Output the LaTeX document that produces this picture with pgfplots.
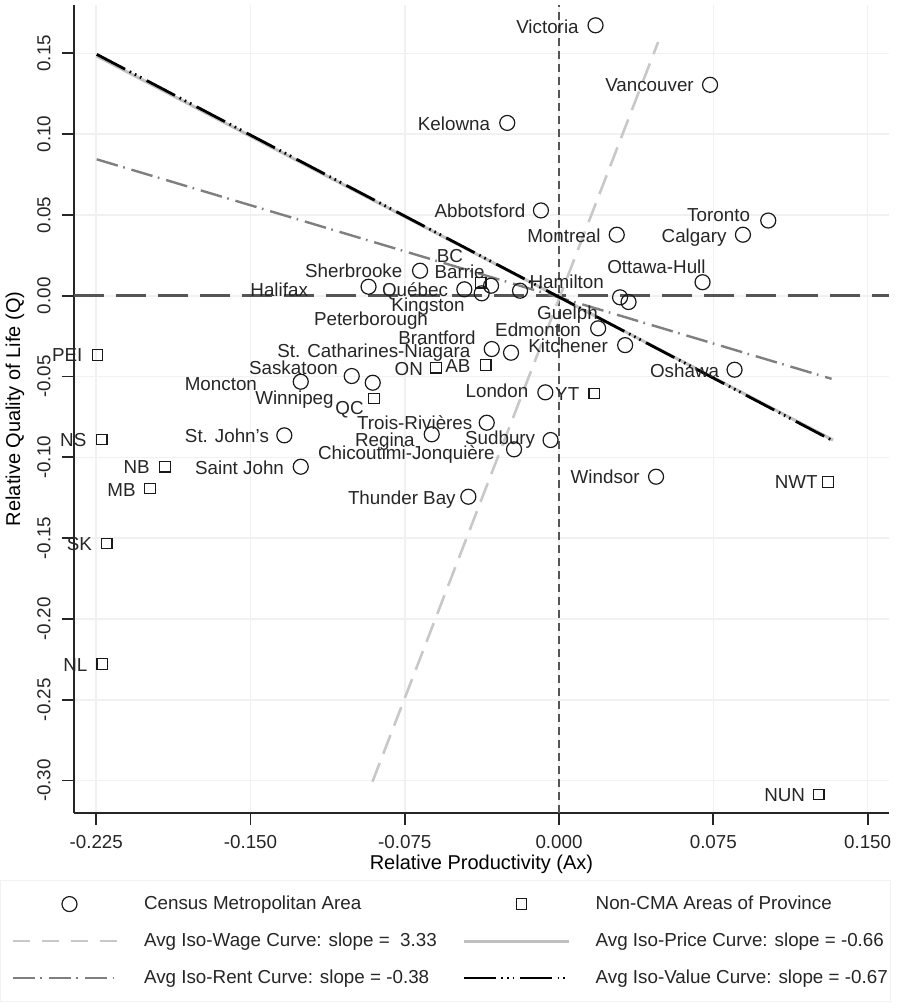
\documentclass[border=0pt]{standalone}
\usepackage{fontspec}
\setmainfont{Liberation Sans}
\usepackage{pgfplots}
\pgfplotsset{compat=1.18}
\definecolor{wagec}{HTML}{C8C8C8}
\definecolor{pricec}{HTML}{C0C0C0}
\definecolor{rentc}{HTML}{7F7F7F}
\definecolor{refc}{HTML}{555555}
\definecolor{gridc}{HTML}{F1F1F1}
\definecolor{txtc}{HTML}{262626}
\tikzset{lbl/.style={anchor=east, inner sep=0pt, text height=6.7pt, text depth=0pt, font=\fontsize{9.4}{11}\selectfont, text=txtc}}
\newcommand{\legtxt}[2]{\makebox[#1][l]{\rule[-2.5pt]{0pt}{9.5pt}#2}}
\pgfplotsset{
  linelegend/.style={legend image code/.code={\draw[##1] (0pt,0pt) -- (52.5pt,0pt);}},
  wagelegend/.style={legend image code/.code={\draw[##1, dash pattern=on 8.5pt off 6pt] (0pt,0pt) -- (52.5pt,0pt);}},
  marklegend/.style={legend image code/.code={\path[draw=none] (0pt,0pt) -- (52.5pt,0pt); \path[##1, draw=none] plot coordinates {(#1,0pt)};}},
}
\begin{document}
\begin{tikzpicture}
\begin{axis}[
  scale only axis, width=407.5pt, height=403.85pt,
  xmin=-0.2358, xmax=0.1604, ymin=-0.3199, ymax=0.1799,
  axis x line*=bottom, axis y line*=left,
  axis line style={-, line width=0.9pt, color=black!85},
  tick align=outside, major tick length=6pt,
  tick style={line width=0.9pt, color=black!85},
  xtick={-0.225,-0.15,-0.075,0,0.075,0.15},
  xticklabels={-0.225,-0.150,-0.075,0.000,0.075,0.150},
  ytick={-0.30,-0.25,-0.20,-0.15,-0.10,-0.05,0,0.05,0.10,0.15},
  yticklabels={-0.30,-0.25,-0.20,-0.15,-0.10,-0.05,0.00,0.05,0.10,0.15},
  ticklabel style={font=\fontsize{9.4}{11}\selectfont, text=txtc},
  xticklabel style={anchor=north, inner sep=0pt},
  yticklabel style={rotate=90, anchor=south, inner sep=0pt},
  xticklabel shift=5pt, yticklabel shift=5.5pt,
  grid=major, major grid style={color=gridc, line width=0.8pt},
  xlabel={Relative Productivity (Ax)},
  ylabel={Relative Quality of Life (Q)},
  label style={font=\fontsize{11.9}{14}\selectfont, text=txtc},
  every axis x label/.style={at={(axis description cs:0.5,-0.0635)}, anchor=center},
  every axis y label/.style={at={(axis description cs:-0.0724,0.5)}, rotate=90, anchor=center},
  clip=false,
  legend columns=2,
  legend style={at={(axis description cs:-0.0908,-0.0833)}, anchor=north west,
    draw=black!5, fill=white, font=\fontsize{9.4}{11}\selectfont, text=txtc,
    inner xsep=5.5pt, inner ysep=5.6pt, row sep=6pt,
    /tikz/every odd column/.append style={column sep=10.55pt},
    /tikz/every even column/.append style={column sep=7.25pt}},
  legend cell align=left,
]
% reference lines
\addplot[forget plot, refc, line width=1.3pt, dash pattern=on 15pt off 6pt] coordinates {(-0.2358,0) (0.1604,0)};
\addplot[forget plot, refc, line width=1pt, dash pattern=on 4pt off 2.5pt] coordinates {(0,-0.3199) (0,0.1799)};

% CMA
\addplot[only marks, mark=o, mark size=3.75pt, mark options={line width=0.6pt, draw=black!90}, marklegend=28.4pt]
coordinates {
(0.01774,0.16733) (0.07341,0.13051) (-0.02518,0.10693) (-0.00880,0.05278) (0.02805,0.03775)
(0.10170,0.04653) (0.08940,0.03775) (0.06976,0.00835) (0.02966,-0.00099) (0.03379,-0.00390)
(0.01901,-0.02017) (0.03213,-0.03057) (0.08532,-0.04579) (-0.00666,-0.05978) (-0.00413,-0.08930)
(0.04716,-0.11200) (-0.03515,-0.07859) (-0.06189,-0.08577) (-0.02188,-0.09505) (-0.04409,-0.12438)
(-0.03272,-0.03298) (-0.02334,-0.03527) (-0.06757,0.01547) (-0.09261,0.00557) (-0.04604,0.00396)
(-0.03758,0.00149) (-0.03306,0.00619) (-0.01896,0.00309) (-0.10078,-0.04969) (-0.09057,-0.05384)
(-0.12557,-0.05322) (-0.13355,-0.08639) (-0.12557,-0.10582)
};
\addlegendentry{\legtxt{150pt}{Census Metropolitan Area}}
% Non-CMA
\addplot[only marks, mark=square, mark size=2.6pt, mark options={line width=0.6pt, draw=black!90}, marklegend=28.8pt]
coordinates {
(-0.22445,-0.03670) (-0.22232,-0.08886) (-0.19154,-0.10582) (-0.19883,-0.11918) (-0.21983,-0.15322)
(-0.22207,-0.22791) (0.12625,-0.30854) (0.13077,-0.11529) (0.01706,-0.06040) (-0.05980,-0.04455)
(-0.03563,-0.04288) (-0.08994,-0.06349) (-0.03807,0.00804)
};
\addlegendentry{\legtxt{140pt}{Non-CMA Areas of Province}}
% Iso-wage
\addplot[wagec, line width=1.3pt, dash pattern=on 10pt off 5pt, wagelegend]
coordinates {(-0.09071,-0.30074) (0.04818,0.15699)};
\addlegendentry{\legtxt{150pt}{Avg Iso-Wage Curve: slope = \ 3.33}}
% Iso-price
\addplot[pricec, line width=1.5pt, linelegend]
coordinates {(-0.22475,0.14833) (0.13320,-0.08929)};
\addlegendentry{\legtxt{140pt}{Avg Iso-Price Curve: slope = -0.66}}
% Iso-rent
\addplot[rentc, line width=1.2pt, dash pattern=on 11pt off 2.8pt on 0.8pt off 3.5pt, linelegend]
coordinates {(-0.22475,0.08441) (0.13248,-0.05142)};
\addlegendentry{\legtxt{150pt}{Avg Iso-Rent Curve: slope = -0.38}}
% Iso-value
\addplot[black, line width=1.4pt, dash pattern=on 16pt off 2.6pt on 0.8pt off 2.1pt on 0.8pt off 2.1pt on 0.8pt off 3pt, linelegend]
coordinates {(-0.22475,0.14938) (0.13330,-0.08991)};
\addlegendentry{\legtxt{140pt}{Avg Iso-Value Curve: slope = -0.67}}

% labels
\node[lbl] at (axis cs:0.00972,0.16671) {Victoria};
\node[lbl] at (axis cs:0.06568,0.13051) {Vancouver};
\node[lbl] at (axis cs:-0.03335,0.10650) {Kelowna};
\node[lbl] at (axis cs:-0.01614,0.05235) {Abbotsford};
\node[lbl] at (axis cs:0.02032,0.03713) {Montreal};
\node[lbl] at (axis cs:0.09300,0.05025) {Toronto};
\node[lbl] at (axis cs:0.08158,0.03713) {Calgary};
\node[lbl] at (axis cs:0.07142,0.01776) {Ottawa-Hull};
\node[lbl] at (axis cs:0.02197,0.00835) {Hamilton};
\node[lbl] at (axis cs:0.01901,-0.01040) {Guelph};
\node[lbl] at (axis cs:0.01084,-0.02079) {Edmonton};
\node[lbl] at (axis cs:0.02392,-0.03119) {Kitchener};
\node[lbl] at (axis cs:0.07798,-0.04623) {Oshawa};
\node[lbl] at (axis cs:-0.01473,-0.05897) {London};
\node[lbl] at (axis cs:0.01001,-0.06040) {YT};
\node[lbl] at (axis cs:-0.01142,-0.08806) {Sudbury};
\node[lbl] at (axis cs:0.03938,-0.11200) {Windsor};
\node[lbl] at (axis cs:0.12591,-0.11529) {NWT};
\node[lbl] at (axis cs:0.11978,-0.30897) {NUN};
\node[lbl] at (axis cs:-0.04652,0.02457) {BC};
\node[lbl] at (axis cs:-0.07598,0.01547) {Sherbrooke};
\node[lbl] at (axis cs:-0.03597,0.01485) {Barrie};
\node[lbl] at (axis cs:-0.12188,0.00396) {Halifax};
\node[lbl] at (axis cs:-0.05382,0.00396) {Québec};
\node[lbl] at (axis cs:-0.04570,-0.00532) {Kingston};
\node[lbl] at (axis cs:-0.06354,-0.01399) {Peterborough};
\node[lbl] at (axis cs:-0.04035,-0.02574) {Brantford};
\node[lbl] at (axis cs:-0.04293,-0.03403) {St. Catharines-Niagara};
\node[lbl] at (axis cs:-0.06597,-0.04493) {ON};
\node[lbl] at (axis cs:-0.04293,-0.04350) {AB};
\node[lbl] at (axis cs:-0.04195,-0.07834) {Trois-Rivières};
\node[lbl] at (axis cs:-0.07001,-0.08886) {Regina};
\node[lbl] at (axis cs:-0.03111,-0.09715) {Chicoutimi-Jonquière};
\node[lbl] at (axis cs:-0.05007,-0.12519) {Thunder Bay};
\node[lbl] at (axis cs:-0.10729,-0.04431) {Saskatoon};
\node[lbl] at (axis cs:-0.14667,-0.05464) {Moncton};
\node[lbl] at (axis cs:-0.10938,-0.06312) {Winnipeg};
\node[lbl] at (axis cs:-0.09480,-0.06931) {QC};
\node[lbl] at (axis cs:-0.14084,-0.08682) {St. John's};
\node[lbl] at (axis cs:-0.13354,-0.10619) {Saint John};
\node[lbl] at (axis cs:-0.23155,-0.03670) {PEI};
\node[lbl] at (axis cs:-0.22961,-0.08930) {NS};
\node[lbl] at (axis cs:-0.19883,-0.10582) {NB};
\node[lbl] at (axis cs:-0.20564,-0.11980) {MB};
\node[lbl] at (axis cs:-0.22684,-0.15322) {SK};
\node[lbl] at (axis cs:-0.22907,-0.22853) {NL};
\end{axis}
\pgfresetboundingbox
\path[use as bounding box] (-37pt,-95.15pt) rectangle (415.5pt,406.35pt);
\end{tikzpicture}
\end{document}
